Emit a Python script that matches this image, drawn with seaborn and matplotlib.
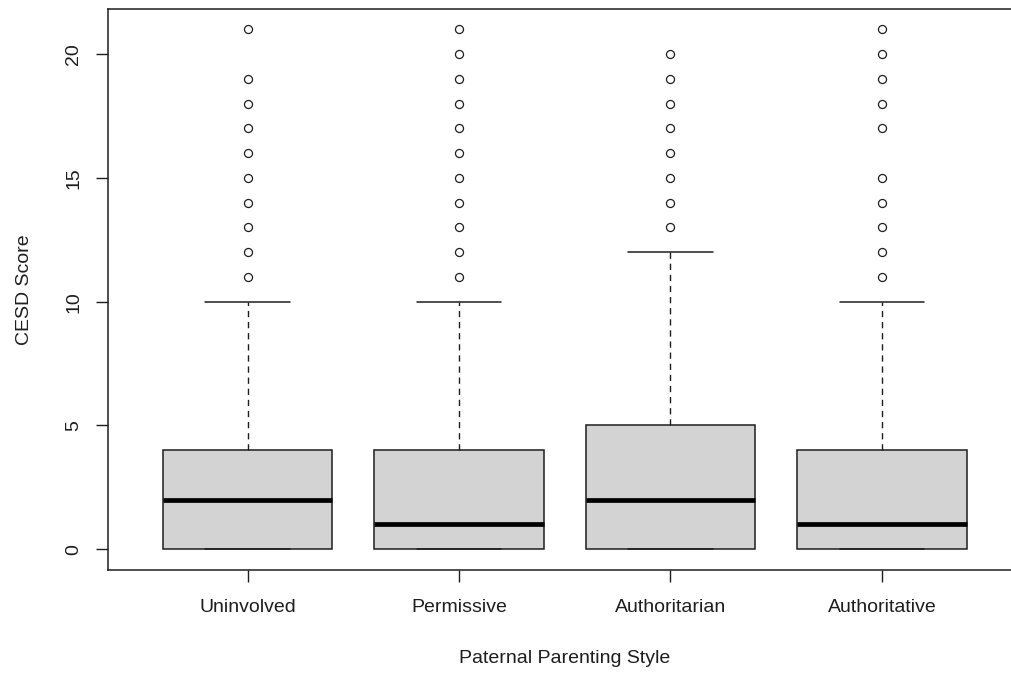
import numpy as np
import pandas as pd
import matplotlib
matplotlib.use("Agg")
import matplotlib.pyplot as plt
import seaborn as sns

# CESD score frequencies (score 0..21) for each paternal parenting style
score_levels = list(range(22))
styles = ["Uninvolved", "Permissive", "Authoritarian", "Authoritative"]
uninvolved_counts =    [30, 15, 15, 10, 15, 3, 4, 3, 2, 2, 2, 1, 1, 1, 1, 1, 1, 1, 1, 1, 0, 1]
permissive_counts =    [40, 22, 12, 10, 14, 4, 3, 2, 2, 1, 1, 1, 1, 1, 1, 1, 1, 1, 1, 1, 1, 1]
authoritarian_counts = [30, 12, 15, 10, 10, 12, 4, 3, 3, 2, 2, 1, 1, 1, 1, 1, 1, 1, 1, 1, 1, 0]
authoritative_counts = [40, 22, 12, 10, 14, 4, 3, 2, 2, 1, 1, 1, 1, 1, 1, 1, 0, 1, 1, 1, 1, 1]
y_ticks = [0, 5, 10, 15, 20]

counts_by_style = [uninvolved_counts, permissive_counts,
                   authoritarian_counts, authoritative_counts]
frames = []
for style, counts in zip(styles, counts_by_style):
    scores = np.repeat(score_levels, counts)
    frames.append(pd.DataFrame({"style": style, "score": scores}))
df = pd.concat(frames, ignore_index=True)
df["style"] = pd.Categorical(df["style"], categories=styles, ordered=True)

sns.set_theme(style="white")
plt.rcParams["font.family"] = ["Liberation Sans", "DejaVu Sans"]

ink = "#1e1e1e"
fig = plt.figure(figsize=(10.11, 6.77), dpi=100)
ax = fig.add_axes([108 / 1011, 107 / 677, (1021.5 - 108) / 1011, (570 - 8.5) / 677])

sns.boxplot(
    data=df, x="style", y="score", ax=ax,
    color="#d3d3d3", linecolor=ink, linewidth=1.1,
    width=0.8, whis=1.5, saturation=1,
    capwidths=0.4,
    whiskerprops={"linestyle": (0, (4.5, 3.5)), "linewidth": 1.0},
    capprops={"linewidth": 1.1},
    medianprops={"linewidth": 3.4, "color": "black", "solid_capstyle": "butt"},
    flierprops={"marker": "o", "markersize": 5.8, "markerfacecolor": "white",
                "markeredgecolor": ink, "markeredgewidth": 0.9},
)

ax.set_xlim(-0.66, 3.66)
ax.set_ylim(-0.84, 21.84)
ax.set_yticks(y_ticks)
ax.set_yticklabels([str(v) for v in y_ticks], rotation=90, va="center")
ax.set_xticks(range(len(styles)))
ax.set_xticklabels(styles)

ax.tick_params(axis="both", which="major", direction="out", length=8.6,
               width=1.0, color=ink, labelsize=14, labelcolor=ink,
               left=True, bottom=True)
ax.tick_params(axis="y", pad=10)
ax.tick_params(axis="x", pad=12)

for spine in ax.spines.values():
    spine.set_visible(True)
    spine.set_color(ink)
    spine.set_linewidth(1.1)

ax.set_xlabel("Paternal Parenting Style", fontsize=14, color=ink, labelpad=25)
ax.set_ylabel("CESD Score", fontsize=14, color=ink, labelpad=23)
ax.grid(False)

fig.savefig("out.png", dpi=100, facecolor="white")
